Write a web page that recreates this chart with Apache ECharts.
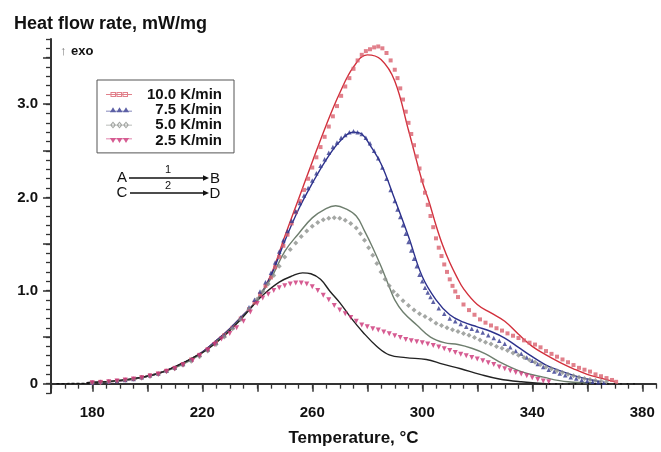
<!DOCTYPE html>
<html>
<head>
<meta charset="utf-8">
<script src="https://cdn.jsdelivr.net/npm/echarts@6/dist/echarts.min.js"></script>
<style>html,body{margin:0;padding:0;background:#fff}#c{width:661px;height:452px}</style>
</head>
<body>
<div id="c"></div>
<script>
// ---- data ----
const xLabelValues = [180, 220, 260, 300, 340, 380];
const xMajorTicks = [180, 200, 220, 240, 260, 280, 300, 320, 340, 360, 380];
const yLabelValues = [0, 1, 2, 3];
const yMajorTicks = [0, 0.5, 1, 1.5, 2, 2.5, 3, 3.5];
const seriesNames = ['10.0 K/min', '7.5 K/min', '5.0 K/min', '2.5 K/min'];

const exp10 = [[180,0.01],[183,0.02],[186,0.02],[189,0.03],[192,0.04],[195,0.05],[198,0.07],[201,0.09],[204,0.11],[207,0.14],[210,0.17],[213,0.21],[216,0.26],[219,0.31],[222,0.37],[225,0.44],[228,0.52],[231,0.60],[234,0.70],[237,0.80],[239,0.87],[241,0.96],[243,1.05],[245,1.14],[246.5,1.25],[248,1.36],[249.5,1.48],[251,1.60],[252.5,1.72],[254,1.84],[255.5,1.96],[257,2.08],[258.5,2.20],[260,2.32],[261.5,2.43],[263,2.54],[264.5,2.65],[266,2.76],[267.5,2.87],[269,2.98],[270.5,3.09],[272,3.19],[273.5,3.28],[275,3.38],[276.5,3.47],[278,3.53],[279.5,3.57],[281,3.59],[282.5,3.61],[284,3.62],[285.5,3.60],[287,3.55],[288.5,3.47],[290,3.37],[291,3.28],[292,3.17],[293,3.05],[294,2.92],[295,2.80],[296,2.68],[297,2.56],[298,2.44],[299,2.31],[300,2.18],[301,2.05],[302,1.92],[303,1.80],[304,1.68],[305,1.56],[306,1.46],[307,1.37],[308,1.28],[309,1.20],[310,1.12],[311,1.05],[312,0.99],[313,0.93],[315,0.85],[317,0.79],[319,0.74],[321,0.69],[323,0.655],[325,0.625],[327,0.595],[329,0.57],[331,0.54],[333,0.515],[335,0.49],[337,0.465],[339,0.44],[341,0.42],[343,0.39],[345,0.35],[347,0.32],[349,0.29],[351,0.26],[353,0.23],[355,0.20],[357,0.17],[359,0.15],[361,0.13],[363,0.10],[365,0.08],[367,0.06],[369,0.04],[370.5,0.02]];
const exp75 = [[180,0.01],[183,0.02],[186,0.02],[189,0.03],[192,0.04],[195,0.05],[198,0.07],[201,0.09],[204,0.11],[207,0.14],[210,0.17],[213,0.21],[216,0.26],[219,0.31],[222,0.37],[225,0.44],[228,0.52],[231,0.61],[234,0.71],[237,0.82],[239,0.90],[241,0.99],[243,1.09],[245,1.19],[246.5,1.30],[248,1.42],[249.5,1.54],[251,1.64],[252.5,1.75],[254,1.85],[255.5,1.94],[257,2.02],[258.5,2.10],[260,2.18],[261.5,2.26],[263,2.34],[264.5,2.41],[266,2.48],[267.5,2.54],[269,2.59],[270.5,2.64],[272,2.67],[273.5,2.70],[275,2.71],[276.5,2.70],[278,2.68],[279.5,2.64],[281,2.58],[282.5,2.50],[284,2.42],[285.5,2.32],[287,2.20],[288.5,2.08],[290,1.96],[291,1.87],[292,1.79],[293,1.70],[294,1.61],[295,1.52],[296,1.43],[297,1.34],[298,1.26],[299,1.17],[300,1.10],[301,1.03],[302,0.98],[303,0.93],[304,0.88],[306,0.81],[308,0.75],[310,0.70],[312,0.67],[314,0.64],[316,0.61],[318,0.59],[320,0.57],[322,0.55],[324,0.52],[326,0.49],[328,0.46],[330,0.43],[332,0.39],[334,0.35],[336,0.32],[338,0.28],[340,0.245],[342,0.21],[344,0.18],[346,0.15],[348,0.13],[350,0.11],[352,0.09],[354,0.07],[356,0.055],[358,0.04],[360,0.03],[362,0.02],[364,0.015],[366,0.01]];
const exp50 = [[180,0.01],[183,0.01],[186,0.02],[189,0.03],[192,0.04],[195,0.05],[198,0.06],[201,0.08],[204,0.10],[207,0.13],[210,0.16],[213,0.20],[216,0.24],[219,0.29],[222,0.35],[225,0.42],[228,0.50],[231,0.59],[234,0.69],[237,0.80],[240,0.91],[242,0.99],[244,1.07],[246,1.16],[248,1.26],[250,1.36],[252,1.44],[254,1.51],[256,1.58],[258,1.64],[260,1.69],[262,1.73],[264,1.76],[266,1.775],[268,1.78],[270,1.775],[272,1.755],[274,1.72],[276,1.67],[277.5,1.61],[279,1.54],[280.5,1.46],[282,1.38],[283.5,1.29],[285,1.20],[286.5,1.12],[288,1.05],[289.5,0.99],[291,0.95],[293,0.89],[295,0.84],[297,0.79],[299,0.75],[301,0.72],[303,0.69],[305,0.65],[307,0.625],[309,0.60],[311,0.58],[313,0.56],[315,0.54],[317,0.52],[319,0.495],[321,0.47],[323,0.445],[325,0.425],[327,0.40],[329,0.38],[331,0.355],[333,0.33],[335,0.305],[337,0.28],[339,0.255],[341,0.23],[343,0.205],[345,0.18],[347,0.16],[349,0.14],[351,0.12],[353,0.10],[355,0.085],[357,0.07],[359,0.055],[361,0.045],[363,0.035],[365,0.025],[367,0.02]];
const exp25 = [[180,0.01],[183,0.01],[186,0.02],[189,0.03],[192,0.04],[195,0.05],[198,0.06],[201,0.08],[204,0.10],[207,0.13],[210,0.16],[213,0.20],[216.5,0.25],[219,0.30],[222,0.36],[224.5,0.42],[227,0.48],[230,0.54],[232.5,0.60],[235,0.67],[237.5,0.77],[240,0.86],[242,0.92],[244,0.96],[246,1.00],[248,1.03],[250,1.05],[252,1.07],[254,1.08],[256,1.08],[258,1.07],[260,1.04],[262,1.00],[264,0.95],[266,0.90],[268,0.84],[270,0.79],[272,0.75],[274,0.71],[276,0.67],[278,0.63],[280,0.61],[282,0.59],[284,0.575],[286,0.555],[288,0.535],[290,0.515],[292,0.495],[294,0.475],[296,0.46],[298,0.45],[300,0.44],[302,0.425],[304,0.41],[306,0.395],[308,0.375],[310,0.355],[312,0.335],[314,0.315],[316,0.30],[318,0.28],[320,0.265],[322,0.245],[324,0.225],[326,0.205],[328,0.18],[330,0.16],[332,0.14],[334,0.12],[336,0.105],[338,0.085],[340,0.065],[342,0.045],[344,0.03],[346,0.02]];

const model10 = [[178,0.01],[185,0.02],[190,0.03],[195,0.05],[200,0.08],[205,0.12],[210,0.18],[215,0.25],[220,0.34],[225,0.46],[230,0.59],[235,0.74],[240,0.90],[245,1.17],[250,1.58],[255,1.98],[260,2.38],[265,2.77],[270,3.12],[275,3.40],[280,3.53],[285,3.48],[290,3.25],[295,2.72],[300,2.17],[302.5,1.95],[305,1.70],[307.5,1.48],[310,1.30],[312.5,1.15],[315,1.02],[320,0.85],[325,0.76],[330,0.67],[335,0.53],[340,0.40],[345,0.31],[350,0.23],[355,0.16],[360,0.10],[365,0.06],[370,0.02]];
const model75 = [[178,0.01],[185,0.02],[190,0.03],[195,0.05],[200,0.08],[205,0.12],[210,0.18],[215,0.25],[220,0.34],[225,0.46],[230,0.59],[235,0.74],[240,0.90],[245,1.16],[250,1.53],[255,1.87],[260,2.15],[265,2.40],[270,2.60],[275,2.70],[278,2.68],[281,2.56],[285,2.36],[290,1.98],[295,1.58],[300,1.15],[305,0.90],[310,0.74],[315,0.66],[320,0.61],[325,0.56],[330,0.49],[335,0.39],[340,0.29],[345,0.20],[350,0.14],[355,0.09],[360,0.05],[365,0.02]];
const model50 = [[178,0.01],[185,0.02],[190,0.03],[195,0.05],[200,0.08],[205,0.12],[210,0.17],[215,0.24],[220,0.33],[225,0.45],[230,0.58],[235,0.73],[240,0.90],[245,1.13],[250,1.42],[255,1.61],[260,1.78],[265,1.88],[268.5,1.91],[272,1.88],[276,1.80],[279,1.64],[282,1.46],[285,1.26],[288,1.04],[290,0.90],[293,0.77],[298,0.63],[303,0.50],[308,0.44],[313,0.42],[318,0.38],[323,0.32],[329,0.22],[336,0.13],[344,0.07],[353,0.02],[362,0.01]];
const model25 = [[178,0.01],[185,0.02],[191,0.04],[200,0.08],[206,0.13],[212,0.21],[216,0.27],[222,0.37],[227.5,0.50],[234,0.69],[238.5,0.84],[242,0.95],[248,1.09],[253,1.16],[256.5,1.19],[259.5,1.18],[263,1.12],[266.5,0.99],[270,0.87],[274,0.71],[278.5,0.55],[283.5,0.40],[288,0.31],[294,0.28],[301.5,0.26],[307.5,0.21],[314,0.16],[321,0.10],[328,0.05],[336,0.02],[345,0.0]];
const baseLeft = [[167,0],[180,0.005]];
const baseRight = [[346,0],[378,0]];

// ---- styling ----
const FONT = 'Liberation Sans, Arial, sans-serif';
const expColors = ['#d9606e', '#33388f', '#8d918d', '#cc3377'];
const lineColors = ['#d2303c', '#2c318c', '#6e7e6e', '#222222'];
const icons = [
  'path://M0,3.5h26v1h-26z M4.5,1.5h5.5v5h-5.5z M5.5,2.5v3h3.5v-3z M10.5,1.5h5.5v5h-5.5z M11.5,2.5v3h3.5v-3z M16.5,1.5h5.5v5h-5.5z M17.5,2.5v3h3.5v-3z',
  'path://M0,5h26v0.8h-26z M4,6.5L7,1.5L10,6.5z M10.5,6.5L13.5,1.5L16.5,6.5z M17,6.5L20,1.5L23,6.5z',
  'path://M0,3.6h26v0.8h-26z M7,0.5L10,4L7,7.5L4,4z M7,2L5.6,4L7,6L8.4,4z M13.5,0.5L16.5,4L13.5,7.5L10.5,4z M13.5,2L12.1,4L13.5,6L14.9,4z M20,0.5L23,4L20,7.5L17,4z M20,2L18.6,4L20,6L21.4,4z',
  'path://M0,2h26v0.8h-26z M4,1.5L10,1.5L7,6.5z M10.5,1.5L16.5,1.5L13.5,6.5z M17,1.5L23,1.5L20,6.5z'
];
const expSymbols = ['rect', 'triangle', 'diamond', 'triangle'];
const expSizes = [4, 4.5, 5, 5];
const expRot = [0, 0, 0, 180];
const expData = [exp10, exp75, exp50, exp25];
const modelData = [model10, model75, model50, model25];

const series = [];
modelData.forEach((d, i) => series.push({
  type: 'line', name: 'model' + i, data: d, smooth: 0.4, showSymbol: false,
  lineStyle: { color: lineColors[i], width: 1.4 }, z: 2, silent: true
}));
expData.forEach((d, i) => series.push({
  type: 'scatter', name: seriesNames[i], data: d, symbol: expSymbols[i],
  symbolSize: expSizes[i], symbolRotate: expRot[i],
  itemStyle: { color: expColors[i] }, z: 3, silent: true
}));
series.push({ type: 'line', name: 'baseL', data: baseLeft, showSymbol: false,
  lineStyle: { color: '#111', width: 1.3, type: [3, 2] }, silent: true });
series.push({ type: 'line', name: 'baseR', data: baseRight, showSymbol: false, z: 4,
  lineStyle: { color: '#111', width: 1.6, type: [1.5, 5] }, silent: true });

const axisCommon = { lineStyle: { color: '#333', width: 2 } };
const option = {
  animation: false,
  grid: { left: 51, right: 5, top: 39, bottom: 59 },
  title: {
    text: 'Heat flow rate, mW/mg', left: 9, top: 10,
    textStyle: { fontFamily: FONT, fontSize: 18, fontWeight: 'bold', color: '#111' }
  },
  legend: {
    data: seriesNames.map((n, i) => ({ name: n, icon: icons[i] })),
    orient: 'vertical', left: 97, top: 80,
    padding: [7, 12, 5, 9], itemWidth: 26, itemHeight: 8, itemGap: 0.3,
    borderColor: '#555', borderWidth: 1,
    selectedMode: false,
    formatter: n => '{a|' + n + '}',
    textStyle: {
      rich: { a: { width: 85, align: 'right', fontSize: 15, fontWeight: 'bold',
        fontFamily: FONT, color: '#111', lineHeight: 16 } }
    }
  },
  xAxis: [{
    type: 'value', min: 165, max: 385,
    name: 'Temperature, °C', nameLocation: 'middle', nameGap: 37,
    nameTextStyle: { fontFamily: FONT, fontSize: 17, fontWeight: 'bold', color: '#111' },
    axisLine: axisCommon, splitLine: { show: false },
    axisTick: { customValues: xMajorTicks, length: 8, lineStyle: { color: '#333', width: 1.5 } },
    axisLabel: { customValues: xLabelValues, margin: 12, fontFamily: FONT, fontSize: 15,
      fontWeight: 'bold', color: '#111' }
  }, {
    type: 'value', min: 165, max: 385, interval: 5, position: 'bottom',
    axisLine: { show: false }, splitLine: { show: false }, axisLabel: { show: false },
    axisTick: { length: 5, lineStyle: { color: '#333', width: 1.3 } }
  }],
  yAxis: [{
    type: 'value', min: -0.1, max: 3.7,
    axisLine: axisCommon, splitLine: { show: false },
    axisTick: { customValues: yMajorTicks, length: 8, lineStyle: { color: '#333', width: 1.5 } },
    axisLabel: { customValues: yLabelValues, margin: 13, fontFamily: FONT, fontSize: 15,
      fontWeight: 'bold', color: '#111', formatter: v => v === 0 ? '0' : v.toFixed(1) }
  }, {
    type: 'value', min: -0.1, max: 3.7, interval: 0.1, position: 'left',
    axisLine: { show: false }, splitLine: { show: false }, axisLabel: { show: false },
    axisTick: { length: 5, lineStyle: { color: '#333', width: 1.3 } }
  }],
  series: series,
  graphic: [
    { type: 'text', left: 60, top: 45, style: { text: '↑', font: '13px ' + FONT, fill: '#777' } },
    { type: 'text', left: 71, top: 45, style: { text: 'exo', font: 'bold 13px ' + FONT, fill: '#111' } },
    { type: 'text', x: 122, y: 178, style: { text: 'A', font: '15px ' + FONT, fill: '#111', align: 'center', verticalAlign: 'middle' } },
    { type: 'line', shape: { x1: 129, y1: 178, x2: 204, y2: 178 }, style: { stroke: '#111', lineWidth: 1.5 } },
    { type: 'polygon', shape: { points: [[203, 175.3], [209, 178], [203, 180.7]] }, style: { fill: '#111' } },
    { type: 'text', x: 168, y: 170, style: { text: '1', font: '11px ' + FONT, fill: '#111', align: 'center', verticalAlign: 'middle' } },
    { type: 'text', x: 215, y: 179, style: { text: 'B', font: '15px ' + FONT, fill: '#111', align: 'center', verticalAlign: 'middle' } },
    { type: 'text', x: 122, y: 193, style: { text: 'C', font: '15px ' + FONT, fill: '#111', align: 'center', verticalAlign: 'middle' } },
    { type: 'line', shape: { x1: 130, y1: 193, x2: 204, y2: 193 }, style: { stroke: '#111', lineWidth: 1.5 } },
    { type: 'polygon', shape: { points: [[203, 190.3], [209, 193], [203, 195.7]] }, style: { fill: '#111' } },
    { type: 'text', x: 168, y: 186, style: { text: '2', font: '11px ' + FONT, fill: '#111', align: 'center', verticalAlign: 'middle' } },
    { type: 'text', x: 215, y: 194, style: { text: 'D', font: '15px ' + FONT, fill: '#111', align: 'center', verticalAlign: 'middle' } }
  ]
};
const chart = echarts.init(document.getElementById('c'), null, { renderer: 'canvas' });
chart.setOption(option);
</script>
</body>
</html>
